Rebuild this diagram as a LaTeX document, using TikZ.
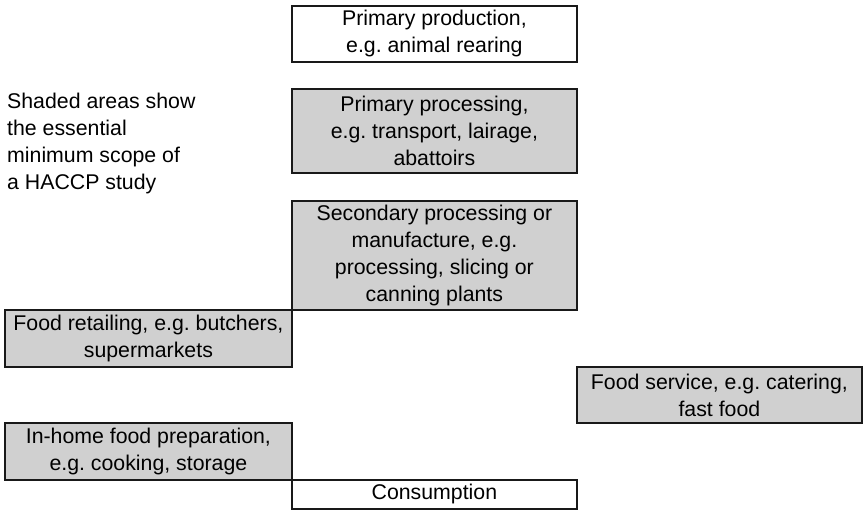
\documentclass[tikz,border=0pt]{standalone}
\usepackage{fontspec}
\setmainfont{Liberation Sans}
\frenchspacing
\definecolor{scopefill}{RGB}{208,208,208}
\definecolor{edgeink}{RGB}{25,25,25}
\tikzset{
  stage/.style={draw=edgeink, line width=1.8pt, fill=white, anchor=north west,
    inner sep=0pt, align=center, minimum width=285pt,
    font=\fontsize{21.3}{27}\selectfont},
  scoped/.style={stage, fill=scopefill},
  note/.style={anchor=north west, inner sep=0pt, align=left,
    font=\fontsize{21.3}{27}\selectfont}
}
\begin{document}
\begin{tikzpicture}[x=1pt,y=-1pt]
  \useasboundingbox (0,0) rectangle (864,511);
  % food chain stages, column by column
  \node[stage,  minimum height=56pt]  (prod)    at (291,5)   {Primary production,\\e.g. animal rearing};
  \node[scoped, minimum height=84pt]  (primary) at (291,88)  {Primary processing,\\e.g. transport, lairage,\\abattoirs};
  \node[scoped, minimum height=109pt] (second)  at (291,200) {Secondary processing or\\manufacture, e.g.\\processing, slicing or\\canning plants};
  \node[scoped, minimum height=57pt, minimum width=287pt] (retail) at (4,309) {Food retailing, e.g. butchers,\\supermarkets};
  \node[scoped, minimum height=56pt]  (service) at (576,366) {Food service, e.g. catering,\\fast food};
  \node[scoped, minimum height=57pt, minimum width=287pt] (home) at (4,422) {In-home food preparation,\\e.g. cooking, storage};
  \node[stage,  minimum height=29pt]  (consume) at (291,479) {Consumption};
  % key to the shading
  \node[note] (key) at (7,93) {Shaded areas show\\the essential\\minimum scope of\\a HACCP study};
\end{tikzpicture}
\end{document}
